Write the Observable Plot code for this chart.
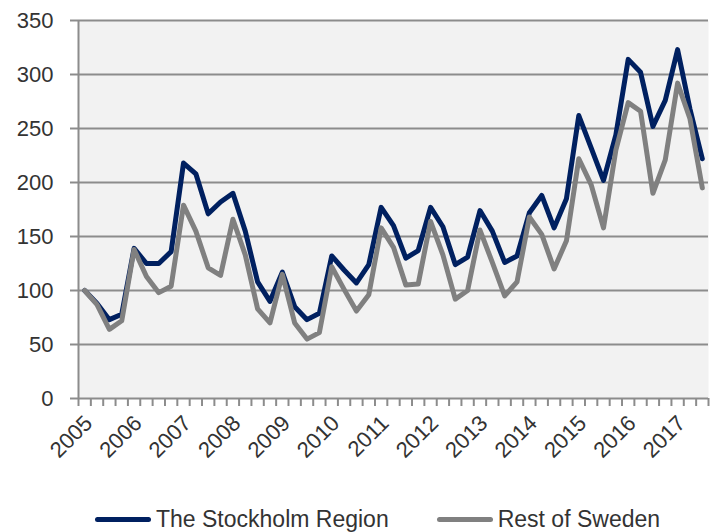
<!DOCTYPE html>
<html>
<head>
<meta charset="utf-8">
<script src="https://cdn.jsdelivr.net/npm/d3@7"></script>
<script src="https://cdn.jsdelivr.net/npm/@observablehq/plot@0.6"></script>
<style>
  body { margin: 0; background: #fff; font-family: "Liberation Sans", Arial, sans-serif; }
  #chart { width: 710px; height: 500px; }
  .legend { display: flex; align-items: center; height: 32px; font-size: 23px; color: #333; padding-top: 6px; box-sizing: border-box; }
  .item { display: flex; align-items: center; }
  .swatch { display: inline-block; width: 56px; height: 5px; border-radius: 3px; margin-right: 5px; }
</style>
</head>
<body>
<div id="chart"></div>
<div class="legend" id="legend"></div>
<script>
// ---- data ----
const years = ["2005","2006","2007","2008","2009","2010","2011","2012","2013","2014","2015","2016","2017"];
const quarterNames = ["Q1","Q2","Q3","Q4"];
const seriesNames = ["The Stockholm Region", "Rest of Sweden"];
const seriesColors = ["#002060", "#808080"];
const stockholm = [100, 88, 73, 78, 139, 125, 125, 136, 218, 208,
                   171, 182, 190, 155, 108, 90, 117, 85, 73, 79,
                   132, 119, 107, 124, 177, 160, 130, 137, 177, 159,
                   124, 131, 174, 155, 126, 132, 172, 188, 158, 185,
                   262, 232, 202, 244, 314, 302, 252, 276, 323, 268,
                   222];
const restOfSweden = [100, 87, 64, 72, 138, 113, 98, 104, 179, 155,
                      121, 114, 166, 133, 83, 70, 115, 70, 55, 61,
                      122, 101, 81, 96, 158, 140, 105, 106, 164, 133,
                      92, 100, 156, 126, 95, 108, 168, 152, 120, 146,
                      222, 198, 158, 230, 274, 266, 190, 221, 292, 259,
                      195];
const yTicks = [0, 50, 100, 150, 200, 250, 300, 350];

// ---- table ----
const periods = years.flatMap(y => quarterNames.map(q => `${y} ${q}`)).slice(0, stockholm.length);
const rows = [];
[stockholm, restOfSweden].forEach((values, s) => {
  values.forEach((v, i) => rows.push({ i, period: periods[i], series: seriesNames[s], value: v }));
});
const boundaries = d3.range(-0.5, periods.length, 1);
const labelIdx = years.map((y, k) => k * 4);

const gridColor = "#8c8c8c";
const chart = Plot.plot({
  width: 710,
  height: 500,
  marginLeft: 78,
  marginRight: 2,
  marginTop: 20,
  marginBottom: 102,
  style: { fontFamily: "'Liberation Sans', Arial, sans-serif", background: "transparent" },
  x: { domain: [-0.5, periods.length - 0.5] },
  y: { domain: [0, 350] },
  color: { domain: seriesNames, range: seriesColors },
  marks: [
    Plot.frame({ fill: "#f2f2f2", stroke: null }),
    Plot.gridY(yTicks, { stroke: gridColor, strokeOpacity: 1, strokeWidth: 2 }),
    Plot.ruleX([-0.5], { stroke: gridColor, strokeWidth: 2 }),
    Plot.axisY(yTicks, { tickSize: 8, tickPadding: 17, fontSize: 22, stroke: gridColor, strokeWidth: 2, fill: "#333", label: null }),
    Plot.axisX(boundaries, { tickSize: 8, tickFormat: () => "", stroke: gridColor, strokeWidth: 2, label: null }),
    Plot.axisX(labelIdx, { tickSize: 0, tickPadding: 21, dx: 4, tickRotate: -45, fontSize: 22, fill: "#333", tickFormat: i => years[i / 4], label: null }),
    Plot.lineY(rows, { x: "i", y: "value", z: "series", stroke: "series", strokeWidth: 5, strokeLinejoin: "round", strokeLinecap: "round" })
  ]
});
document.getElementById("chart").appendChild(chart);

const legend = document.getElementById("legend");
seriesNames.forEach((name, s) => {
  const item = document.createElement("div");
  item.className = "item";
  item.style.marginLeft = s === 0 ? "95px" : "48px";
  const sw = document.createElement("span");
  sw.className = "swatch";
  sw.style.background = seriesColors[s];
  const t = document.createElement("span");
  t.textContent = name;
  item.appendChild(sw);
  item.appendChild(t);
  legend.appendChild(item);
});
</script>
</body>
</html>
